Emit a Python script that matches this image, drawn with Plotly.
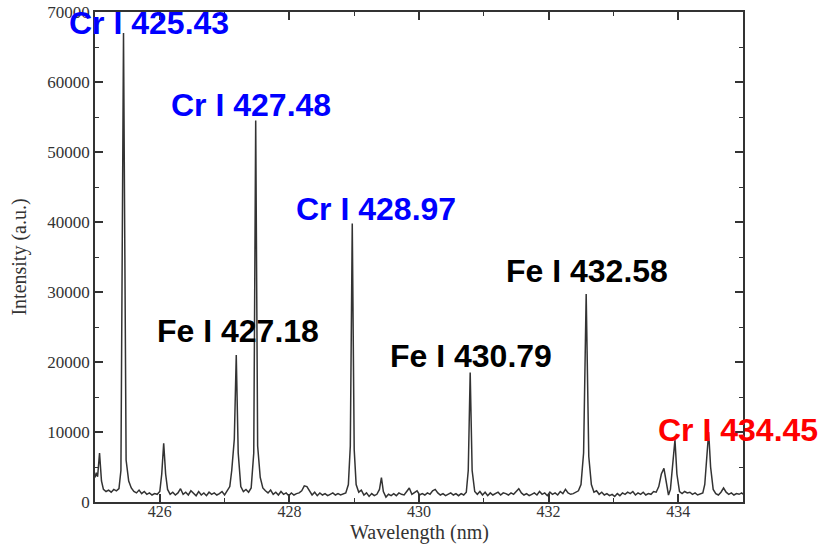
import plotly.graph_objects as go

wavelength = [
    425.00, 425.02, 425.04, 425.07, 425.10, 425.13, 425.17, 425.21, 425.25, 425.29,
    425.33, 425.37, 425.40, 425.44, 425.48, 425.52, 425.56, 425.60, 425.64, 425.68,
    425.72, 425.76, 425.80, 425.84, 425.88, 425.92, 425.96, 426.00, 426.03, 426.06,
    426.09, 426.12, 426.16, 426.20, 426.24, 426.28, 426.32, 426.36, 426.40, 426.44,
    426.48, 426.52, 426.56, 426.60, 426.64, 426.68, 426.72, 426.76, 426.80, 426.84,
    426.88, 426.92, 426.96, 427.00, 427.04, 427.08, 427.11, 427.15, 427.18, 427.21,
    427.25, 427.29, 427.33, 427.37, 427.41, 427.45, 427.48, 427.51, 427.55, 427.59,
    427.63, 427.67, 427.71, 427.75, 427.79, 427.83, 427.87, 427.91, 427.95, 427.99,
    428.03, 428.07, 428.11, 428.15, 428.19, 428.23, 428.27, 428.31, 428.35, 428.39,
    428.43, 428.47, 428.51, 428.55, 428.59, 428.63, 428.67, 428.71, 428.75, 428.79,
    428.83, 428.87, 428.91, 428.94, 428.97, 429.00, 429.03, 429.07, 429.11, 429.15,
    429.19, 429.23, 429.27, 429.31, 429.35, 429.39, 429.42, 429.45, 429.49, 429.53,
    429.57, 429.61, 429.65, 429.69, 429.73, 429.77, 429.81, 429.85, 429.89, 429.93,
    429.97, 430.01, 430.05, 430.09, 430.13, 430.17, 430.21, 430.25, 430.29, 430.33,
    430.37, 430.41, 430.45, 430.49, 430.53, 430.57, 430.61, 430.65, 430.69, 430.73,
    430.76, 430.79, 430.82, 430.86, 430.90, 430.94, 430.98, 431.02, 431.06, 431.10,
    431.14, 431.18, 431.22, 431.26, 431.30, 431.34, 431.38, 431.42, 431.46, 431.50,
    431.54, 431.58, 431.62, 431.66, 431.70, 431.74, 431.78, 431.82, 431.86, 431.90,
    431.94, 431.98, 432.02, 432.06, 432.10, 432.14, 432.18, 432.22, 432.26, 432.30,
    432.34, 432.38, 432.42, 432.46, 432.50, 432.54, 432.58, 432.62, 432.66, 432.70,
    432.74, 432.78, 432.82, 432.86, 432.90, 432.94, 432.98, 433.02, 433.06, 433.10,
    433.14, 433.18, 433.22, 433.26, 433.30, 433.34, 433.38, 433.42, 433.46, 433.50,
    433.54, 433.58, 433.62, 433.66, 433.70, 433.74, 433.78, 433.82, 433.85, 433.88,
    433.91, 433.95, 433.98, 434.02, 434.06, 434.10, 434.14, 434.18, 434.22, 434.26,
    434.30, 434.34, 434.38, 434.41, 434.44, 434.47, 434.50, 434.54, 434.58, 434.62,
    434.66, 434.70, 434.74, 434.78, 434.82, 434.86, 434.90, 434.94, 434.98, 435.00,
]

intensity = [
    3500, 4200, 3600, 7000, 3000, 1800, 1500, 1700, 1400, 1800,
    1600, 1900, 4500, 67000, 6000, 3000, 2000, 1500, 1300, 1700,
    1200, 1500, 1100, 1300, 1000, 1200, 1100, 1500, 4000, 8400,
    4000, 1800, 1100, 1400, 1000, 1300, 1900, 1100, 1400, 1000,
    1600, 1200, 900, 1500, 1000, 1300, 900, 1400, 1100, 1300,
    1000, 1200, 1500, 1000, 1700, 2200, 4500, 9000, 21000, 7000,
    2200, 1500, 1800, 1400, 2000, 7000, 54500, 8000, 3500, 2000,
    1600, 1300, 1700, 1100, 1400, 1000, 1500, 1100, 1300, 900,
    1300, 1000, 1200, 1300, 1600, 2300, 2200, 1500, 1000, 1400,
    900, 1300, 1000, 1200, 900, 1100, 1300, 1000, 1200, 1000,
    1100, 1300, 2500, 8000, 39800, 7500, 2500, 1400, 1700, 1000,
    1300, 800, 1200, 900, 1100, 1800, 3500, 1500, 700, 1100,
    900, 1200, 900, 1300, 1100, 1000, 1500, 2000, 1100, 1300,
    1600, 1000, 1200, 1000, 1300, 1100, 1600, 1800, 1300, 1000,
    1200, 900, 1100, 1300, 1000, 1200, 900, 1200, 1000, 1400,
    4500, 18500, 4500, 1500, 1100, 1500, 1000, 1400, 900, 1300,
    1000, 1200, 1400, 1000, 1300, 1200, 1000, 1300, 1100, 1500,
    1900, 1300, 1000, 1200, 900, 1100, 1300, 1000, 1500, 1100,
    1300, 900, 1400, 1100, 1300, 1000, 1500, 1200, 1800, 1300,
    1100, 1200, 1400, 1600, 2500, 7000, 29700, 6500, 2500, 1400,
    1600, 1100, 1400, 1000, 1200, 900, 1100, 800, 1200, 900,
    1300, 1100, 1400, 1200, 1500, 1000, 1300, 1100, 1400, 1000,
    1200, 1100, 1500, 1400, 2200, 4000, 4800, 2500, 1000, 1800,
    5000, 8900, 4000, 1500, 1200, 1500, 1300, 1400, 1100, 1300,
    1000, 1100, 1300, 2500, 7000, 10000, 5000, 1800, 1200, 1000,
    1400, 2000, 1400, 1100, 1300, 1000, 1200, 1100, 1300, 1100,
]

label_text = ["Cr I 425.43", "Cr I 427.48", "Cr I 428.97", "Fe I 427.18",
              "Fe I 430.79", "Fe I 432.58", "Cr I 434.45"]
label_x = [425.83, 427.41, 429.34, 427.20, 430.81, 432.60, 434.92]
label_y = [68500, 56700, 41900, 24400, 20800, 33000, 10300]
label_color = ["#0000ff", "#0000ff", "#0000ff", "#000000", "#000000", "#000000", "#ff0000"]

x_ticks = [426, 428, 430, 432, 434]
y_ticks = [0, 10000, 20000, 30000, 40000, 50000, 60000, 70000]
x_title = "Wavelength (nm)"
y_title = "Intensity (a.u.)"

fig = go.Figure()
fig.add_trace(go.Scatter(
    x=wavelength, y=intensity, mode="lines",
    line=dict(color="#333333", width=1.5),
    showlegend=False, hoverinfo="skip",
))

for t, x, y, c in zip(label_text, label_x, label_y, label_color):
    fig.add_annotation(x=x, y=y, text=t, showarrow=False,
                       font=dict(family="Liberation Sans", size=32, color=c, weight="bold"),
                       xanchor="center", yanchor="middle")

serif = "Liberation Serif"

# x-axis title placed just below the tick labels
fig.add_annotation(x=0.5, y=-0.062, xref="paper", yref="paper", text=x_title,
                   showarrow=False, xanchor="center", yanchor="middle",
                   font=dict(family=serif, size=20, color="#333333"))

axis_common = dict(showline=True, linecolor="#333333", linewidth=1.5, mirror="allticks",
                   ticks="inside", ticklen=8, tickwidth=1.5, tickcolor="#333333",
                   showgrid=False, zeroline=False, automargin=False)

fig.update_xaxes(range=[425, 435], tickvals=x_ticks, ticktext=[str(v) for v in x_ticks],
                 ticklabelstandoff=-6,
                 tickfont=dict(family=serif, size=16, color="#333333"),
                 minor=dict(tickvals=[425, 427, 429, 431, 433, 435], ticks="inside",
                            ticklen=4, tickwidth=1.2, tickcolor="#333333"),
                 **axis_common)
fig.update_yaxes(range=[0, 70000], tickvals=y_ticks, ticktext=[str(v) for v in y_ticks],
                 tickfont=dict(family=serif, size=17, color="#333333"),
                 minor=dict(tickvals=[5000, 15000, 25000, 35000, 45000, 55000, 65000],
                            ticks="inside", ticklen=4, tickwidth=1.2, tickcolor="#333333"),
                 title=dict(text=y_title, font=dict(family=serif, size=20, color="#333333")),
                 **axis_common)

fig.update_layout(
    width=819, height=544,
    margin=dict(l=95, r=76, t=12, b=42),
    plot_bgcolor="white", paper_bgcolor="white",
)

fig.write_html("out.html")
